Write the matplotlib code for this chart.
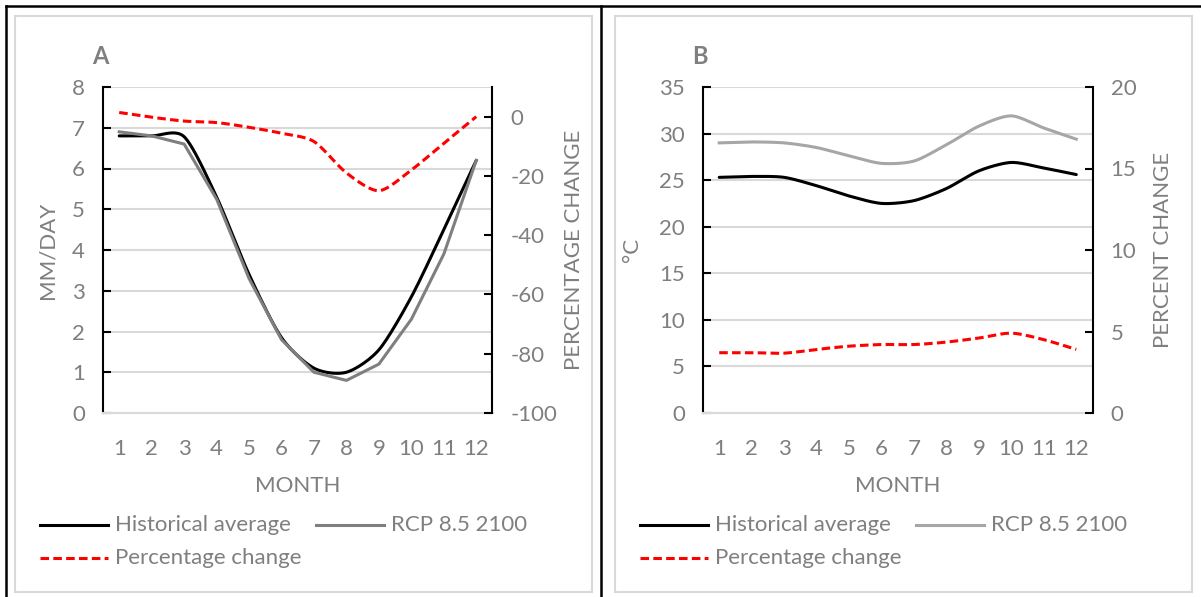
import numpy as np
import matplotlib
matplotlib.use('Agg')
from matplotlib import pyplot as plt
from matplotlib.lines import Line2D
from matplotlib.patches import Rectangle

plt.rcParams['font.family'] = ['Lato', 'DejaVu Sans']
plt.rcParams['axes.unicode_minus'] = False

# Data
months = np.arange(1, 13)
month_labels = [str(m) for m in months]

# Panel A: precipitation (mm/day) and percentage change
precip_hist = [6.8, 6.8, 6.78, 5.3, 3.4, 1.85, 1.1, 1.0, 1.55, 2.85, 4.5, 6.2]
precip_rcp = [6.9, 6.8, 6.6, 5.25, 3.3, 1.8, 1.0, 0.8, 1.2, 2.3, 3.9, 6.2]
precip_pct = [1.4, -0.2, -1.5, -2.0, -3.6, -5.6, -8.4, -19.0, -25.0, -18.0, -9.0, 0.0]

# Panel B: temperature (deg C) and percent change
temp_hist = [25.3, 25.4, 25.3, 24.4, 23.3, 22.5, 22.8, 24.1, 26.0, 26.9, 26.3, 25.6]
temp_rcp = [29.0, 29.1, 29.0, 28.5, 27.6, 26.8, 27.05, 28.8, 30.8, 31.9, 30.6, 29.4]
temp_pct = [3.7, 3.7, 3.67, 3.9, 4.1, 4.2, 4.2, 4.35, 4.6, 4.9, 4.5, 3.9]

TXT = '#7f7f7f'
GRID = '#d9d9d9'
FS = 16
W, H = 1201, 597
DASH = (0, (2.8, 1.4))


def smooth(x, y, n=24, k=0.8):
    # Cardinal curve through the points, like Excel's smoothed line
    x = np.asarray(x, float)
    y = np.asarray(y, float)
    px = np.concatenate(([x[0]], x, [x[-1]]))
    py = np.concatenate(([y[0]], y, [y[-1]]))
    xs, ys = [], []
    t = np.linspace(0, 1, n, endpoint=False)
    h00 = 2 * t ** 3 - 3 * t ** 2 + 1
    h10 = t ** 3 - 2 * t ** 2 + t
    h01 = -2 * t ** 3 + 3 * t ** 2
    h11 = t ** 3 - t ** 2
    for i in range(1, len(px) - 2):
        for p, out in ((px, xs), (py, ys)):
            m1 = k * 0.5 * (p[i + 1] - p[i - 1])
            m2 = k * 0.5 * (p[i + 2] - p[i])
            out.append(h00 * p[i] + h10 * m1 + h01 * p[i + 1] + h11 * m2)
    xs.append([x[-1]])
    ys.append([y[-1]])
    return np.concatenate(xs), np.concatenate(ys)


def fx(px):
    return px / W


def fy(py):
    return 1 - py / H


def panel(fig, x0, hist, rcp, pct, rcp_smooth, rcp_color, ylim, yticks,
          y2lim, y2ticks, ylabel, y2label, letter, y2label_x, ylabel_x):
    ax = fig.add_axes([fx(x0), fy(413), fx(389.5), fy(87) - fy(413)])
    ax2 = ax.twinx()
    ax.set_zorder(ax2.get_zorder() - 1)
    ax2.patch.set_visible(False)

    ax.set_xlim(0.5, 12.5)
    ax.set_ylim(*ylim)
    ax.set_yticks(yticks)
    ax.set_xticks(months)
    ax.set_xticklabels(month_labels)
    ax.yaxis.grid(True, color=GRID, lw=1.5)
    ax.set_axisbelow(True)
    ax2.set_ylim(*y2lim)
    ax2.set_yticks(y2ticks)

    for a in (ax, ax2):
        for s in a.spines.values():
            s.set_visible(False)
        a.tick_params(colors=TXT, labelsize=FS, length=0)
    ax.spines['left'].set_visible(True)
    ax.spines['left'].set_color('k')
    ax.spines['left'].set_linewidth(1.5)
    ax.spines['bottom'].set_visible(True)
    ax.spines['bottom'].set_color(GRID)
    ax.spines['bottom'].set_linewidth(1.5)
    ax2.spines['right'].set_visible(True)
    ax2.spines['right'].set_color('k')
    ax2.spines['right'].set_linewidth(1.5)
    ax.tick_params(axis='y', direction='in', length=6, width=1.5,
                   color='k', pad=13)
    ax2.tick_params(axis='y', direction='in', length=6, width=1.5,
                    color='k', pad=13)
    ax.tick_params(axis='x', pad=19)

    xs, ys = smooth(months, hist)
    ax.plot(xs, ys, color='k', lw=2.2, solid_capstyle='round')
    if rcp_smooth:
        xs, ys = smooth(months, rcp)
    else:
        xs, ys = months, rcp
    ax.plot(xs, ys, color=rcp_color, lw=2.2, solid_joinstyle='round')
    xs, ys = smooth(months, pct)
    ax2.plot(xs, ys, color='#ff0000', lw=2.2, ls=DASH)

    ax.set_xlabel('MONTH', color=TXT, fontsize=FS, labelpad=12)
    fig.text(fx(ylabel_x), fy(250), ylabel, rotation=90, color=TXT,
             fontsize=FS, ha='center', va='center')
    fig.text(fx(y2label_x), fy(250), y2label, rotation=90, color=TXT,
             fontsize=FS, ha='center', va='center')
    fig.text(fx(x0 - 11), fy(56), letter, color=TXT, fontsize=FS + 1,
             fontweight='bold', ha='left', va='center')

    # legend
    lx = x0 - 63
    rows = [(lx, 525, 'k', '-', 'Historical average'),
            (lx + 276, 525, rcp_color, '-', 'RCP 8.5 2100'),
            (lx, 558, '#ff0000', DASH, 'Percentage change')]
    for x, y, c, ls, lab in rows:
        fig.add_artist(Line2D([fx(x), fx(x + 68)], [fy(y), fy(y)],
                              color=c, lw=2.2, ls=ls))
        fig.text(fx(x + 75), fy(y), lab, color=TXT, fontsize=FS,
                 ha='left', va='center')
    return ax, ax2


fig = plt.figure(figsize=(W / 100, H / 100), dpi=100)

# frames
for x0, x1 in ((14.5, 591.5), (615, 1191.5)):
    fig.add_artist(Rectangle((fx(x0), fy(591.5)), fx(x1 - x0), fy(15.5) - fy(591.5),
                             fill=False, ec=GRID, lw=1.5))
fig.add_artist(Line2D([fx(5.5), fx(1201)], [fy(5.5), fy(5.5)], color='k', lw=1.8))
fig.add_artist(Line2D([fx(5.5), fx(5.5)], [fy(5.5), fy(597)], color='k', lw=1.8))
fig.add_artist(Line2D([fx(600.5), fx(600.5)], [fy(5.5), fy(597)], color='k', lw=1.8))

panel(fig, 103, precip_hist, precip_rcp, precip_pct, False, '#7f7f7f',
      (0, 8), range(0, 9), (-100, 10), range(-100, 1, 20),
      'MM/DAY', 'PERCENTAGE CHANGE', 'A', 574, 47)
panel(fig, 703, temp_hist, temp_rcp, temp_pct, True, '#a6a6a6',
      (0, 35), range(0, 36, 5), (0, 20), range(0, 21, 5),
      '°C', 'PERCENT CHANGE', 'B', 1163, 632)

plt.savefig('out.png', dpi=100)
plt.close()
